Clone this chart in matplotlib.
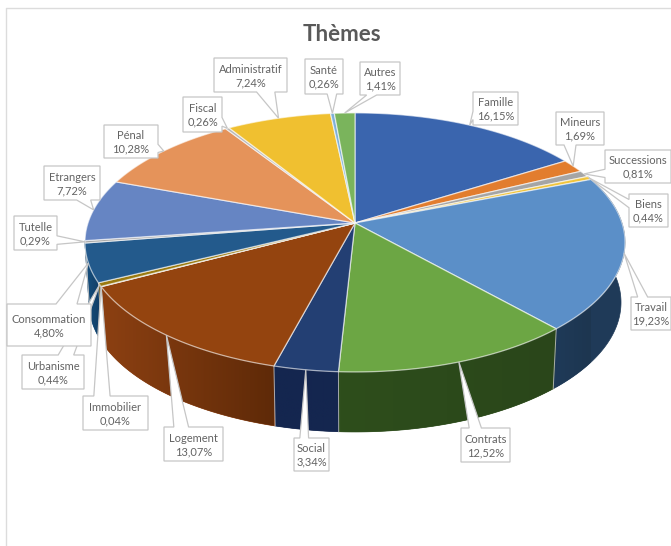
import numpy as np
import matplotlib
matplotlib.use('Agg')
import matplotlib.pyplot as plt
from matplotlib.colors import to_rgb
from matplotlib.patches import Polygon

plt.rcParams['font.family'] = ['Lato', 'DejaVu Sans']

themes = ['Famille', 'Mineurs', 'Successions', 'Biens', 'Travail', 'Contrats', 'Social',
          'Logement', 'Immobilier', 'Urbanisme', 'Consommation', 'Tutelle', 'Etrangers',
          'Pénal', 'Fiscal', 'Administratif', 'Santé', 'Autres']
shares = [16.15, 1.69, 0.81, 0.44, 19.23, 12.52, 3.34,
          13.07, 0.04, 0.44, 4.80, 0.29, 7.72,
          10.28, 0.26, 7.24, 0.26, 1.41]
top_colors = ['#3a65ae', '#e27d2e', '#a5a5a5', '#f0c43c', '#5b8fc8', '#6ca644', '#233f73',
              '#94440f', '#636363', '#9a7a10', '#235a8c', '#a8a8a8', '#6685c3',
              '#e5935a', '#b8b8b8', '#f0c030', '#7fb0d8', '#7ab45c']
# wall shade at the two ends of each front slice
wall_start = {'Travail': '#1d3650', 'Contrats': '#2a461a', 'Social': '#14264f', 'Logement': '#5f2a08',
              'Immobilier': '#333333', 'Urbanisme': '#5f4a08', 'Consommation': '#123f68', 'Tutelle': '#123f68',
              'Biens': '#1d3650'}
wall_end = {'Travail': '#1f3a58', 'Contrats': '#2e4e1c', 'Social': '#14264f', 'Logement': '#8c4012',
            'Immobilier': '#333333', 'Urbanisme': '#5f4a08', 'Consommation': '#15507f', 'Tutelle': '#15507f',
            'Biens': '#1d3650'}

# label box centres and sizes (pixels), drawn in this order
boxes = {'Famille': (495.5, 108.5, 45, 33), 'Mineurs': (580, 128.5, 48, 33),
         'Successions': (638, 166.5, 66, 33), 'Biens': (648.5, 210.5, 39, 33),
         'Travail': (651, 313.5, 40, 33), 'Contrats': (485.5, 445, 49, 34),
         'Social': (311.5, 454.5, 35, 33), 'Logement': (193.5, 444, 59, 34),
         'Immobilier': (115.5, 413, 65, 34), 'Urbanisme': (53, 372, 62, 34),
         'Consommation': (49, 325, 84, 42), 'Tutelle': (35.5, 233, 43, 34),
         'Etrangers': (72, 183, 56, 34), 'Pénal': (131, 141.5, 54, 33),
         'Fiscal': (202.5, 114.5, 39, 35), 'Administratif': (250.5, 75, 73, 34),
         'Santé': (324, 76.5, 38, 35), 'Autres': (380, 78.5, 40, 33)}

APEX_X, APEX_Y = 355, 223
RX, RY, TILT = 267, 126.6, 0.15
DEPTH = 60
BOTTOM_SCALE = 0.985


def rim(pct, scale=1.0, drop=0):
    a = np.asarray(pct) / 100 * 2 * np.pi
    w = 1 + TILT * np.cos(a)
    return APEX_X + RX * scale * np.sin(a) / w, APEX_Y + drop - RY * np.cos(a) / w


def callout(cx, cy, w, h, tx, ty):
    # same outline as a rectangular callout: base sits on the side facing the tip
    l, r, t, b = cx - w / 2, cx + w / 2, cy - h / 2, cy + h / 2
    dx, dy = tx - cx, ty - cy
    xa, xb = (l + w * 7 / 12, l + w * 10 / 12) if dx > 0 else (l + w * 2 / 12, l + w * 5 / 12)
    ya, yb = (t + h * 7 / 12, t + h * 10 / 12) if dy > 0 else (t + h * 2 / 12, t + h * 5 / 12)
    if abs(dy) / h > abs(dx) / w:
        if dy < 0:
            return [(l, t), (xa, t), (tx, ty), (xb, t), (r, t), (r, b), (l, b)]
        return [(l, t), (r, t), (r, b), (xb, b), (tx, ty), (xa, b), (l, b)]
    if dx < 0:
        return [(l, t), (r, t), (r, b), (l, b), (l, yb), (tx, ty), (l, ya)]
    return [(l, t), (r, t), (r, ya), (tx, ty), (r, yb), (r, b), (l, b)]


fig = plt.figure(figsize=(6.71, 5.46), dpi=100)
ax = fig.add_axes([0, 0, 1, 1])
ax.axis('off')

ax.plot([6, 6, 671], [546, 8, 8], color='#dcdcdc', lw=1)
ax.text(342, 34.5, 'Thèmes', ha='center', va='center', fontsize=16, fontweight='bold', color='#595959')

edges = np.concatenate([[0], np.cumsum(shares)])
edges[-1] = 100

# side wall, one clipped gradient per front slice
for i, name in enumerate(themes):
    if name not in wall_start:
        continue
    p = np.linspace(edges[i], edges[i + 1], max(4, int(shares[i] * 6)))
    x0, y0 = rim(p)
    x1, y1 = rim(p, BOTTOM_SCALE, DEPTH)
    xs, ys = np.r_[x0, x1[::-1]], np.r_[y0, y1[::-1]]
    wall = Polygon(np.column_stack([xs, ys]), closed=True, fc=wall_end[name], ec=wall_end[name], lw=0.5, zorder=2)
    ax.add_patch(wall)
    fade = np.linspace(0, 1, 64)[:, None]
    grad = np.array(to_rgb(wall_start[name])) * (1 - fade) + np.array(to_rgb(wall_end[name])) * fade
    im = ax.imshow(grad[None, :, :], extent=(x0[0], x0[-1], ys.max(), ys.min()), aspect='auto', zorder=2.1)
    if x0[0] == x0[-1]:
        im.remove()
    else:
        im.set_clip_path(wall)
    ax.plot([x0[-1], x1[-1]], [y0[-1], y1[-1]], color='#c8c8c8', lw=0.7, alpha=0.8, zorder=3)

ax.set_xlim(0, 671)
ax.set_ylim(546, 0)

# top face
for i, name in enumerate(themes):
    p = np.linspace(edges[i], edges[i + 1], max(3, int(shares[i] * 6)))
    x, y = rim(p)
    ax.add_patch(Polygon(np.column_stack([np.r_[APEX_X, x], np.r_[APEX_Y, y]]), closed=True,
                         fc=top_colors[i], ec=(1, 1, 1, 0.6), lw=0.9, zorder=4))

# callouts
mids = (edges[:-1] + edges[1:]) / 2
for z, (name, (cx, cy, w, h)) in enumerate(boxes.items()):
    i = themes.index(name)
    tx, ty = rim(mids[i])
    ax.add_patch(Polygon(callout(cx, cy, w, h, tx, ty), closed=True, fc='white', ec='#c6c6c6',
                         lw=0.9, joinstyle='miter', zorder=5 + z * 0.01))
    ax.text(cx, cy + 1, f"{name}\n{shares[i]:.2f}%".replace('.', ','), ha='center', va='center',
            fontsize=8, color='#636363', linespacing=1.25, zorder=5.005 + z * 0.01)

fig.savefig('out.png', dpi=100)
